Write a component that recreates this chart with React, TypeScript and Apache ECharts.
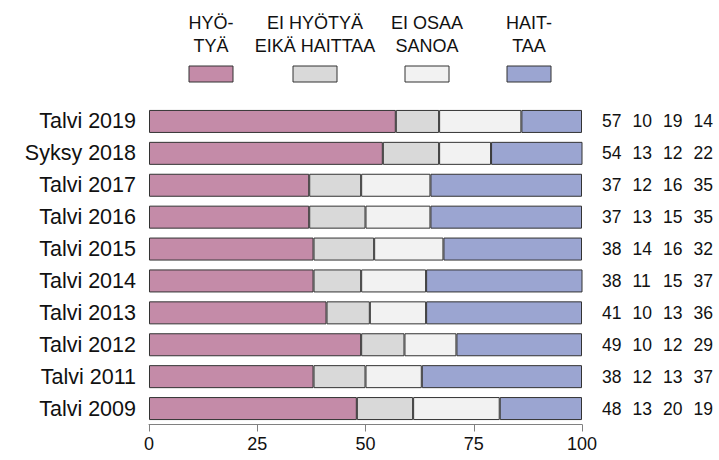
import React, { useEffect, useRef } from "react";
import * as echarts from "echarts";

const categories = [
  "Talvi 2019",
  "Syksy 2018",
  "Talvi 2017",
  "Talvi 2016",
  "Talvi 2015",
  "Talvi 2014",
  "Talvi 2013",
  "Talvi 2012",
  "Talvi 2011",
  "Talvi 2009",
];
const hyotya = [57, 54, 37, 37, 38, 38, 41, 49, 38, 48];
const eiHyotyaEikaHaittaa = [10, 13, 12, 13, 14, 11, 10, 10, 12, 13];
const eiOsaaSanoa = [19, 12, 16, 15, 16, 15, 13, 12, 13, 20];
const haittaa = [14, 22, 35, 35, 32, 37, 36, 29, 37, 19];

const seriesNames = ["HYÖ-\nTYÄ", "EI HYÖTYÄ\nEIKÄ HAITTAA", "EI OSAA\nSANOA", "HAIT-\nTAA"];
const seriesColors = ["#C48BA8", "#D9D9D9", "#F2F2F2", "#9BA5D1"];
const xTicks = [0, 25, 50, 75, 100];

const FONT = "Liberation Sans, Arial, sans-serif";

export default function App() {
  const ref = useRef<HTMLDivElement>(null);
  useEffect(() => {
    if (!ref.current) return;
    const chart = echarts.init(ref.current, null, { renderer: "svg" });
    const allSeries = [hyotya, eiHyotyaEikaHaittaa, eiOsaaSanoa, haittaa];
    const legendX = [211, 315, 427, 529];
    const graphic: any[] = [];
    seriesNames.forEach((name, i) => {
      graphic.push({
        type: "text",
        x: legendX[i],
        y: 34,
        style: {
          text: name,
          fill: "#111",
          font: `18px ${FONT}`,
          align: "center",
          verticalAlign: "middle",
          lineHeight: 23,
        },
      });
      graphic.push({
        type: "rect",
        shape: { x: legendX[i] - 22, y: 66, width: 44, height: 16 },
        style: { fill: seriesColors[i], stroke: "#333", lineWidth: 1 },
      });
    });

    chart.setOption({
      animation: false,
      textStyle: { fontFamily: FONT },
      grid: { left: 149, right: 137, top: 105.5, bottom: 35.5, containLabel: false },
      xAxis: {
        type: "value",
        min: xTicks[0],
        max: xTicks[xTicks.length - 1],
        interval: xTicks[1] - xTicks[0],
        axisLine: { show: true, lineStyle: { color: "#808080", width: 1 } },
        axisTick: { show: true, length: 7, lineStyle: { color: "#808080" } },
        splitLine: { show: false },
        axisLabel: { fontSize: 18, color: "#111", margin: 10, fontFamily: FONT },
      },
      yAxis: [
        {
          type: "category",
          data: categories,
          inverse: true,
          axisLine: { show: false },
          axisTick: { show: false },
          axisLabel: { fontSize: 21.5, color: "#111", margin: 13, fontFamily: FONT },
        },
        {
          type: "category",
          data: categories,
          inverse: true,
          position: "right",
          axisLine: { show: false },
          axisTick: { show: false },
          axisLabel: {
            align: "left",
            margin: 20,
            formatter: (_v: string, idx: number) =>
              allSeries.map((s) => `{n|${s[idx]}}`).join(""),
            rich: {
              n: { width: 30.5, align: "left", fontSize: 17.5, color: "#111", fontFamily: FONT },
            },
          },
        },
      ],
      series: allSeries.map((data, i) => ({
        type: "bar",
        name: seriesNames[i],
        stack: "total",
        data,
        barWidth: 23,
        itemStyle: { color: seriesColors[i], borderColor: "#333", borderWidth: 1 },
      })),
      graphic,
    });
    return () => chart.dispose();
  }, []);
  return (
    <div
      ref={ref}
      style={{ position: "fixed", left: 0, top: 0, width: 719, height: 460, background: "#fff" }}
    />
  );
}
